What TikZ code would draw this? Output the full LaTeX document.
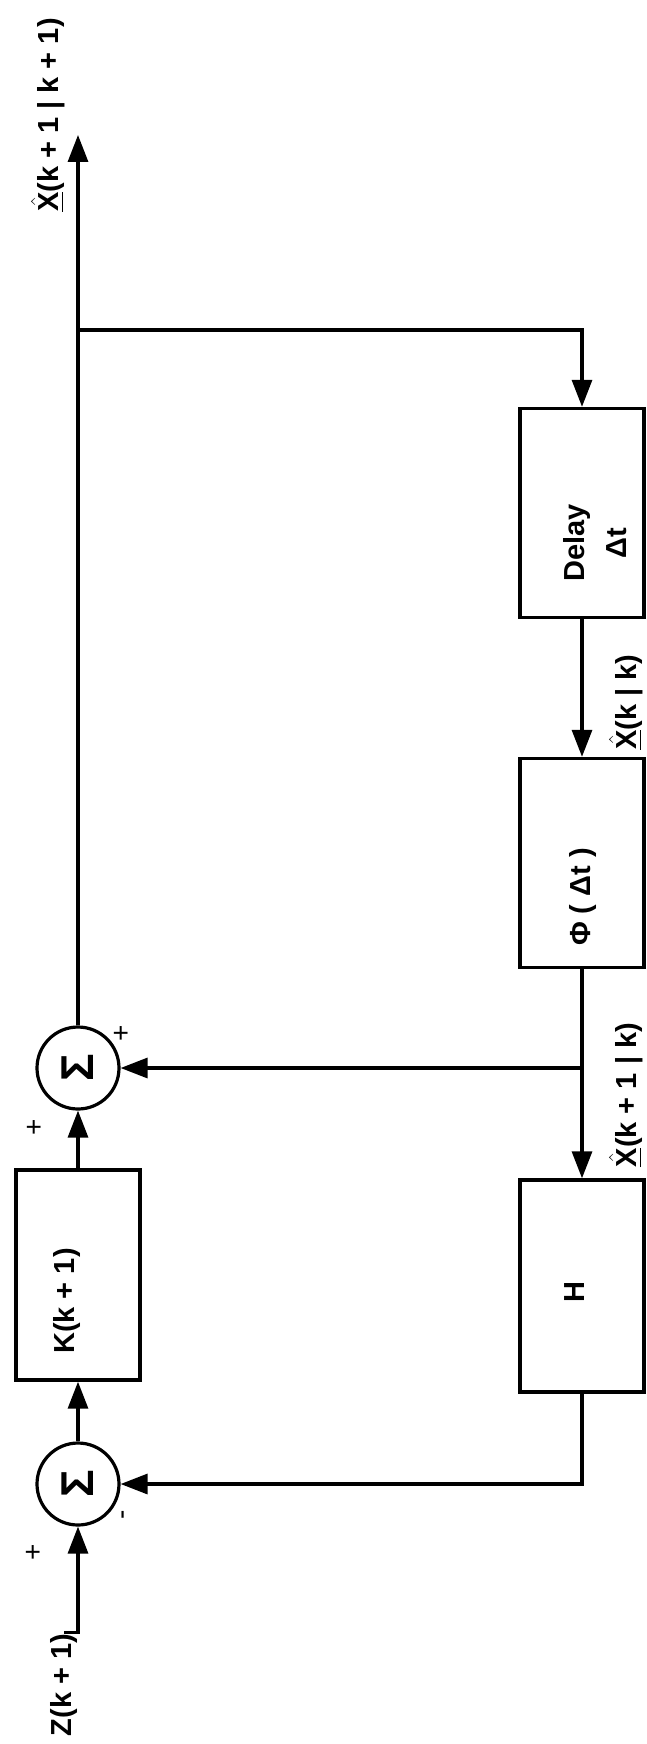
\documentclass[tikz,border=0pt]{standalone}
\usepackage{fix-cm}
\usepackage{amsmath}
\usepackage{bm}
\usepackage{graphicx}
\usepackage{fontspec}
\setmainfont{Liberation Sans}
\usetikzlibrary{arrows.meta}
\newcommand{\xhat}{$\underline{\bm{\hat{\text{X}}}}$}
\begin{document}
\begin{tikzpicture}[x=1pt,y=-1pt,
  line width=3.2pt,
  blk/.style={draw, line width=3.4pt, minimum width=124pt, minimum height=210pt, inner sep=0pt},
  sumnode/.style={draw, circle, line width=3.2pt, minimum size=82pt, inner sep=0pt,
    font=\fontsize{46}{46}\selectfont\bfseries},
  txt/.style={rotate=90, inner sep=0pt, font=\fontsize{29}{42}\selectfont\bfseries, align=center},
  sgn/.style={rotate=90, inner sep=0pt, font=\fontsize{28}{32}\selectfont},
  arr/.style={-{Triangle[length=27pt,width=20pt]}},
]
\path[use as bounding box] (0,0) rectangle (647,1744);

% left column
\node[sumnode] (s1) at (78,1068) {\rotatebox{90}{Σ}};
\node[blk] (K) at (78,1275) {};
\node[txt] (Kt) at (67,1301) {K(k + 1)};
\node[sumnode] (s2) at (78,1484) {\rotatebox{90}{Σ}};
\node[txt] (zin) at (64,1685) {Z(k + 1)};
\coordinate (out) at (78,135);
\coordinate (br) at (78,330);
\node[txt] (xout) at (48,115) {\xhat(k + 1 | k + 1)};

% signs
\node[sgn] (p1) at (35,1127) {+};
\node[sgn] (p2) at (122,1033) {+};
\node[sgn] (p3) at (34,1552) {+};
\node[sgn] (m1) at (126,1515) {-};

% right column
\node[blk, minimum height=209pt] (D) at (582,513) {};
\node[txt] (Dt) at (595,543) {Delay\\Δt};
\node[blk, minimum height=209pt] (P) at (582,863) {};
\node[txt] (Pt) at (583,897) {Φ ( Δt )};
\node[blk, minimum height=212pt] (H) at (582,1286) {};
\node[txt] (Ht) at (575,1292) {H};
\node[txt] (l1) at (626,702) {\xhat(k | k)};
\node[txt] (l2) at (626,1095) {\xhat(k + 1 | k)};

% connectors
\draw[arr] (zin.east) -| (s2.south);
\draw[arr] (s2.north) -- (K.south);
\draw[arr] (K.north) -- (s1.south);
\draw[arr] (s1.north) -- (out);
\draw[arr] (br) -| (D.north);
\draw[arr] (D.south) -- (P.north);
\draw[arr] (P.south) -- (H.north);
\draw[arr] (P.south |- s1.east) -- (s1.east);
\draw[arr] (H.south) |- (s2.east);
\end{tikzpicture}
\end{document}
